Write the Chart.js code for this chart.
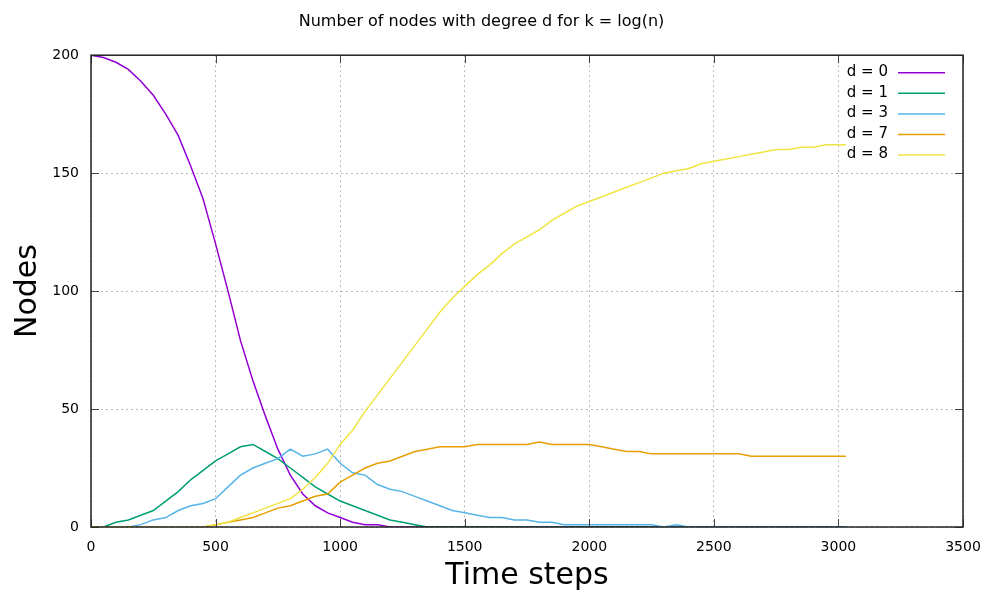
<!DOCTYPE html>
<html>
<head>
<meta charset="utf-8">
<script src="https://cdn.jsdelivr.net/npm/chart.js@4.4.1/dist/chart.umd.min.js"></script>
<style>
  html, body { margin: 0; padding: 0; background: #fff; }
</style>
</head>
<body>
<canvas id="chart" width="995" height="594"></canvas>
<script>
// time axis (x) samples
const timeSteps = [0, 50, 100, 150, 200, 250, 300, 350, 400, 450, 500, 550, 600, 650, 700, 750, 800, 850, 900, 950,
  1000, 1050, 1100, 1150, 1200, 1250, 1300, 1350, 1400, 1450, 1500, 1550, 1600, 1650, 1700, 1750, 1800, 1850, 1900, 1950,
  2000, 2050, 2100, 2150, 2200, 2250, 2300, 2350, 2400, 2450, 2500, 2550, 2600, 2650, 2700, 2750, 2800, 2850, 2900, 2950,
  3000, 3030];

const seriesLabels = ['d = 0', 'd = 1', 'd = 3', 'd = 7', 'd = 8'];
const seriesColors = ['#9400d3', '#009e73', '#56b4e9', '#e69f00', '#f0e442'];

const deg0 = [200, 199, 197, 194, 189, 183, 175, 166, 153, 139, 120, 100, 79, 62, 47, 33, 22, 14, 9, 6,
  4, 2, 1, 1, 0, 0, 0, 0, 0, 0, 0, 0, 0, 0, 0, 0, 0, 0, 0, 0,
  0, 0, 0, 0, 0, 0, 0, 0, 0, 0, 0, 0, 0, 0, 0, 0, 0, 0, 0, 0,
  0, 0];
const deg1 = [0, 0, 2, 3, 5, 7, 11, 15, 20, 24, 28, 31, 34, 35, 32, 29, 25, 21, 17, 14,
  11, 9, 7, 5, 3, 2, 1, 0, 0, 0, 0, 0, 0, 0, 0, 0, 0, 0, 0, 0,
  0, 0, 0, 0, 0, 0, 0, 0, 0, 0, 0, 0, 0, 0, 0, 0, 0, 0, 0, 0,
  0, 0];
const deg3 = [0, 0, 0, 0, 1, 3, 4, 7, 9, 10, 12, 17, 22, 25, 27, 29, 33, 30, 31, 33,
  27, 23, 22, 18, 16, 15, 13, 11, 9, 7, 6, 5, 4, 4, 3, 3, 2, 2, 1, 1,
  1, 1, 1, 1, 1, 1, 0, 1, 0, 0, 0, 0, 0, 0, 0, 0, 0, 0, 0, 0,
  0, 0];
const deg7 = [0, 0, 0, 0, 0, 0, 0, 0, 0, 0, 1, 2, 3, 4, 6, 8, 9, 11, 13, 14,
  19, 22, 25, 27, 28, 30, 32, 33, 34, 34, 34, 35, 35, 35, 35, 35, 36, 35, 35, 35,
  35, 34, 33, 32, 32, 31, 31, 31, 31, 31, 31, 31, 31, 30, 30, 30, 30, 30, 30, 30,
  30, 30];
const deg8 = [0, 0, 0, 0, 0, 0, 0, 0, 0, 0, 1, 2, 4, 6, 8, 10, 12, 16, 21, 27,
  35, 41, 49, 56, 63, 70, 77, 84, 91, 97, 102, 107, 111, 116, 120, 123, 126, 130, 133, 136,
  138, 140, 142, 144, 146, 148, 150, 151, 152, 154, 155, 156, 157, 158, 159, 160, 160, 161, 161, 162,
  162, 162];

const allSeries = [deg0, deg1, deg3, deg7, deg8];

Chart.defaults.font.family = "'DejaVu Sans', sans-serif";
Chart.defaults.color = '#000';

// gnuplot-like box, mirrored inward ticks and key on the right
const gnuFrame = {
  id: 'gnuFrame',
  afterDatasetsDraw(chart) {
    const { ctx, chartArea: a, scales } = chart;
    ctx.save();
    ctx.strokeStyle = '#444';
    ctx.lineWidth = 1;
    ctx.beginPath();
    scales.x.ticks.forEach(t => {
      const px = Math.round(scales.x.getPixelForValue(t.value)) + 0.5;
      ctx.moveTo(px, a.bottom); ctx.lineTo(px, a.bottom - 8);
      ctx.moveTo(px, a.top); ctx.lineTo(px, a.top + 8);
    });
    scales.y.ticks.forEach(t => {
      const py = Math.round(scales.y.getPixelForValue(t.value)) + 0.5;
      ctx.moveTo(a.left, py); ctx.lineTo(a.left + 8, py);
      ctx.moveTo(a.right, py); ctx.lineTo(a.right - 8, py);
    });
    ctx.stroke();

    ctx.strokeStyle = '#222';
    ctx.lineWidth = 1.5;
    ctx.strokeRect(a.left, a.top, a.right - a.left, a.bottom - a.top);

    // key
    ctx.font = "15px 'DejaVu Sans'";
    ctx.textAlign = 'right';
    ctx.textBaseline = 'middle';
    chart.data.datasets.forEach((ds, i) => {
      const y = a.top + 17 + i * 20.6;
      ctx.fillStyle = '#000';
      ctx.fillText(ds.label, a.right - 75, y);
      ctx.strokeStyle = ds.borderColor;
      ctx.lineWidth = 1.5;
      ctx.beginPath();
      ctx.moveTo(a.right - 65, y + 0.5);
      ctx.lineTo(a.right - 18, y + 0.5);
      ctx.stroke();
    });
    ctx.restore();
  }
};

const datasets = allSeries.map((vals, i) => ({
  label: seriesLabels[i],
  data: vals.map((v, j) => ({ x: timeSteps[j], y: v })),
  borderColor: seriesColors[i],
  backgroundColor: seriesColors[i],
  borderWidth: 1.5,
  pointRadius: 0,
  tension: 0,
  fill: false,
  order: allSeries.length - i, // later series on top, like gnuplot
}));

new Chart('chart', {
  type: 'line',
  data: { datasets: datasets },
  plugins: [gnuFrame],
  options: {
    responsive: false,
    animation: false,
    layout: { padding: { left: 0, right: 32, top: 0, bottom: 0 } },
    plugins: {
      legend: { display: false },
      tooltip: { enabled: false },
      title: {
        display: true,
        text: 'Number of nodes with degree d for k = log(n)',
        color: '#000',
        font: { size: 16, weight: 'normal' },
        padding: { top: 12, bottom: 24 },
      },
    },
    scales: {
      x: {
        type: 'linear',
        min: 0,
        max: 3500,
        ticks: { stepSize: 500, padding: 12, font: { size: 14 }, callback: (v) => String(v) },
        grid: { color: '#bbb', drawTicks: false },
        border: { display: false, dash: [2, 3] },
        title: { display: true, text: 'Time steps', font: { size: 30 }, padding: { top: 0, bottom: 0 } },
        afterFit: (s) => { s.height = 67; },
      },
      y: {
        min: 0,
        max: 200,
        ticks: { stepSize: 50, padding: 12, font: { size: 14 }, callback: (v) => String(v) },
        grid: { color: '#bbb', drawTicks: false },
        border: { display: false, dash: [2, 3] },
        title: { display: true, text: 'Nodes', font: { size: 30 }, padding: { top: 10, bottom: 0 } },
        afterFit: (s) => { s.width = 91; },
      },
    },
  },
});
</script>
</body>
</html>
